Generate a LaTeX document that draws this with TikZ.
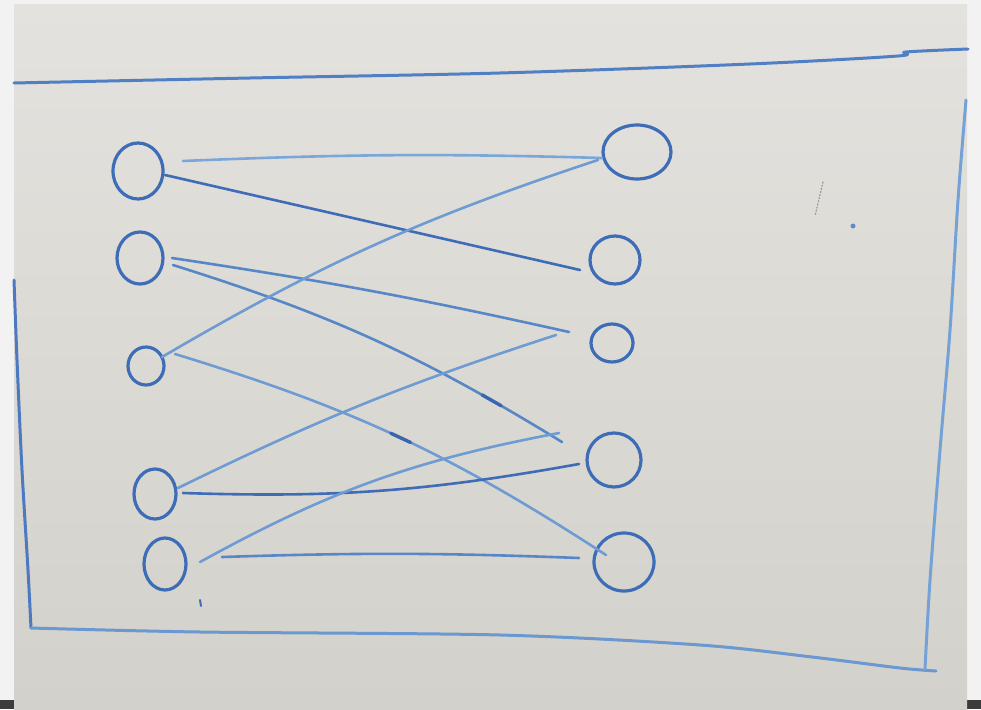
\documentclass[tikz,border=0pt]{standalone}
\usetikzlibrary{shapes.geometric,calc}
\definecolor{bgout}{HTML}{F2F2F2}
\definecolor{bgtop}{HTML}{E4E2DE}
\definecolor{bgbot}{HTML}{D3D1CB}
\definecolor{barcol}{HTML}{3C3C3C}
\definecolor{nodeblue}{HTML}{3E6DB7}
\definecolor{darkline}{HTML}{3F6CB7}
\definecolor{midline}{HTML}{5887C6}
\definecolor{lightline}{HTML}{6E9CD2}
\definecolor{paleline}{HTML}{7AA6D8}
\definecolor{markdark}{HTML}{3A66B0}
\definecolor{frametop}{HTML}{5080C3}
\definecolor{frameleft}{HTML}{4C79BF}
\definecolor{framebot}{HTML}{6A98CF}
\definecolor{frameright}{HTML}{74A2D6}
\definecolor{smudge}{HTML}{9A9893}
\begin{document}
\begin{tikzpicture}[x=1pt,y=1pt, line cap=round, line join=round,
  vert/.style={ellipse, draw=nodeblue, line width=3.2pt, inner sep=0pt, outer sep=0pt},
  edge/.style={line width=2.6pt},
  overmark/.style={line width=3.4pt, markdark},
  framestroke/.style={line width=3pt}]
\useasboundingbox (0,0) rectangle (981,-709);
% background
\fill[bgout] (0,0) rectangle (981,-709);
\fill[barcol] (0,-700) rectangle (981,-709);
\shade[top color=bgtop, bottom color=bgbot] (14,-5) rectangle (967,-709);

% frame
\draw[framestroke, frametop] plot[smooth] coordinates {(14,-83) (250,-78) (500,-73) (750,-64) (898,-56) (906,-52) (968,-49)};
\draw[framestroke, frameleft] plot[smooth] coordinates {(14,-280) (17,-360) (22,-470) (28,-570) (31,-628)};
\draw[framestroke, framebot] plot[smooth] coordinates {(31,-628) (200,-632) (500,-635) (700,-645) (812,-657) (900,-668) (936,-671)};
\draw[framestroke, frameright] plot[smooth] coordinates {(966,-100) (958,-200) (950,-330) (940,-450) (930,-580) (925,-669)};

% vertices
\node[vert, minimum width=50pt, minimum height=56pt] (L1) at (138,-171) {};
\node[vert, minimum width=46pt, minimum height=52pt] (L2) at (140,-258) {};
\node[vert, minimum width=36pt, minimum height=38pt] (L3) at (146,-366) {};
\node[vert, minimum width=42pt, minimum height=50pt] (L4) at (155,-494) {};
\node[vert, minimum width=42pt, minimum height=52pt] (L5) at (165,-564) {};
\node[vert, minimum width=68pt, minimum height=54pt] (R1) at (637,-152) {};
\node[vert, minimum width=50pt, minimum height=48pt] (R2) at (615,-260) {};
\node[vert, minimum width=42pt, minimum height=38pt] (R3) at (612,-343) {};
\node[vert, minimum width=54pt, minimum height=54pt] (R4) at (614,-460) {};
\node[vert, minimum width=60pt, minimum height=58pt] (R5) at (624,-562) {};

% edges (pen strokes stop short of the circles)
\draw[edge, paleline] ($(L1)+(45,10)$) to[bend left=2] ($(R1)+(-35,-6)$);
\draw[edge, darkline] ($(L1)+(27,-4)$) -- ($(R2)+(-35,-10)$);
\draw[edge, midline] ($(L2)+(32,0)$) to[bend left=2] ($(R3)+(-43,11)$);
\draw[edge, midline] ($(L2)+(33,-7)$) to[bend left=7]
   coordinate[pos=0.80] (m4a) coordinate[pos=0.85] (m4b) ($(R4)+(-52,18)$);
\draw[edge, lightline] ($(L3)+(16,9)$) to[bend left=6] ($(R1)+(-39,-8)$);
\draw[edge, lightline] ($(L3)+(29,12)$) to[bend left=8]
   coordinate[pos=0.48] (m6a) coordinate[pos=0.53] (m6b) ($(R5)+(-18,7)$);
\draw[edge, lightline] ($(L4)+(23,6)$) to[bend left=4] ($(R3)+(-56,8)$);
\draw[edge, darkline] ($(L4)+(28,1)$) to[bend right=6] ($(R4)+(-35,-4)$);
\draw[edge, lightline] ($(L5)+(35,2)$) to[bend left=9] ($(R4)+(-55,27)$);
\draw[edge, midline] ($(L5)+(57,7)$) to[bend left=2] ($(R5)+(-45,4)$);

% overdrawn marker spots and specks
\draw[overmark] (m4a) -- (m4b);
\draw[overmark] (m6a) -- (m6b);
\draw[line width=2pt, nodeblue] (200,-600) -- (201,-606);
\draw[line width=1.2pt, smudge, dotted] (823,-182) -- (815,-216);
\fill[nodeblue!80] (853,-226) circle (2.5pt);
\end{tikzpicture}
\end{document}
